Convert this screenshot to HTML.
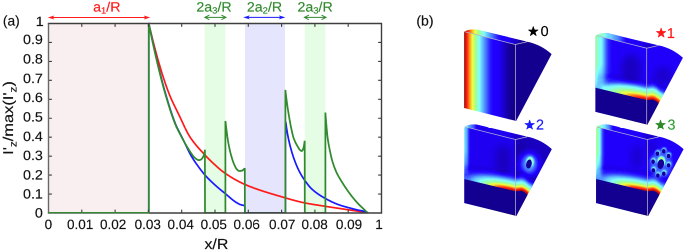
<!DOCTYPE html>
<html><head><meta charset="utf-8"><title>figure</title>
<style>html,body{margin:0;padding:0;background:#fff;overflow:hidden}body{width:685px;height:250px;position:relative}#w{position:absolute;left:0;top:0;width:1370px;height:500px;transform:scale(0.5);transform-origin:0 0;will-change:transform}</style>
</head><body>
<div id="w">
<svg width="1370" height="500" viewBox="0 0 685 250" style="display:block;font-family:'Liberation Sans',Arial,sans-serif;text-rendering:geometricPrecision">
<defs>
<filter id="jet" x="-5%" y="-5%" width="110%" height="110%" color-interpolation-filters="sRGB">
<feComponentTransfer>
<feFuncR type="table" tableValues="0.08 0.13 0.30 0.50 0.65 0.94 1 1 0.56"/>
<feFuncG type="table" tableValues="0 0 0.55 1 1 1 0.55 0.12 0.06"/>
<feFuncB type="table" tableValues="0.56 1 1 1 0.55 0.25 0.12 0.06 0.06"/>
</feComponentTransfer>
</filter>
<filter id="b1" x="-80%" y="-80%" width="260%" height="260%"><feGaussianBlur stdDeviation="1"/></filter>
<filter id="b07" x="-10%" y="-10%" width="120%" height="120%"><feGaussianBlur stdDeviation="0.7"/></filter>
<filter id="b2" x="-80%" y="-80%" width="260%" height="260%"><feGaussianBlur stdDeviation="2"/></filter>
<filter id="b3" x="-120%" y="-120%" width="340%" height="340%"><feGaussianBlur stdDeviation="3.5"/></filter>
<linearGradient id="g0" gradientUnits="userSpaceOnUse" x1="464.0" y1="0" x2="517.6" y2="0">
<stop offset="0.000" stop-color="#ffffff"/>
<stop offset="0.020" stop-color="#f2f2f2"/>
<stop offset="0.055" stop-color="#dfdfdf"/>
<stop offset="0.102" stop-color="#bfbfbf"/>
<stop offset="0.157" stop-color="#9f9f9f"/>
<stop offset="0.215" stop-color="#808080"/>
<stop offset="0.286" stop-color="#606060"/>
<stop offset="0.391" stop-color="#404040"/>
<stop offset="0.489" stop-color="#262626"/>
<stop offset="0.548" stop-color="#202020"/>
<stop offset="0.646" stop-color="#1f1f1f"/>
<stop offset="0.724" stop-color="#141414"/>
<stop offset="0.802" stop-color="#090909"/>
<stop offset="0.881" stop-color="#000000"/>
<stop offset="0.998" stop-color="#000000"/>
</linearGradient>
<linearGradient id="g0t" gradientUnits="userSpaceOnUse" x1="464.0" y1="0" x2="533" y2="0">
<stop offset="0.000" stop-color="#ffffff"/>
<stop offset="0.020" stop-color="#f2f2f2"/>
<stop offset="0.055" stop-color="#dfdfdf"/>
<stop offset="0.102" stop-color="#bfbfbf"/>
<stop offset="0.157" stop-color="#9f9f9f"/>
<stop offset="0.215" stop-color="#808080"/>
<stop offset="0.286" stop-color="#606060"/>
<stop offset="0.391" stop-color="#404040"/>
<stop offset="0.489" stop-color="#262626"/>
<stop offset="0.548" stop-color="#202020"/>
<stop offset="0.646" stop-color="#1f1f1f"/>
<stop offset="0.724" stop-color="#141414"/>
<stop offset="0.802" stop-color="#090909"/>
<stop offset="0.881" stop-color="#000000"/>
<stop offset="0.998" stop-color="#000000"/>
</linearGradient>
<linearGradient id="gleft1" gradientUnits="userSpaceOnUse" x1="464.00" y1="0.00" x2="482.00" y2="0.00">
<stop offset="0.000" stop-color="#fff" stop-opacity="0.45"/>
<stop offset="0.170" stop-color="#fff" stop-opacity="0.324"/>
<stop offset="0.350" stop-color="#fff" stop-opacity="0.28350000000000003"/>
<stop offset="0.470" stop-color="#fff" stop-opacity="0.20700000000000002"/>
<stop offset="0.590" stop-color="#fff" stop-opacity="0.1125"/>
<stop offset="0.760" stop-color="#fff" stop-opacity="0.03150000000000001"/>
<stop offset="1.000" stop-color="#fff" stop-opacity="0"/>
</linearGradient>
<linearGradient id="gleftt1" gradientUnits="userSpaceOnUse" x1="464.00" y1="0.00" x2="494.60" y2="0.00">
<stop offset="0.000" stop-color="#fff" stop-opacity="0.0"/>
<stop offset="0.250" stop-color="#fff" stop-opacity="0.1575"/>
<stop offset="0.500" stop-color="#fff" stop-opacity="0.225"/>
<stop offset="0.750" stop-color="#fff" stop-opacity="0.135"/>
<stop offset="1.000" stop-color="#fff" stop-opacity="0"/>
</linearGradient>
<linearGradient id="gleftv1" gradientUnits="userSpaceOnUse" x1="0.00" y1="30.00" x2="0.00" y2="90.00">
<stop offset="0.000" stop-color="#fff" stop-opacity="1"/>
<stop offset="0.500" stop-color="#fff" stop-opacity="1"/>
<stop offset="0.750" stop-color="#fff" stop-opacity="0.75"/>
<stop offset="0.900" stop-color="#fff" stop-opacity="0.45"/>
<stop offset="1.000" stop-color="#fff" stop-opacity="0.15"/>
</linearGradient>
<mask id="mleft1" maskUnits="userSpaceOnUse" x="455" y="20" width="60" height="90"><rect x="455" y="20" width="60" height="90" fill="url(#gleftv1)"/></mask>
<linearGradient id="gleft2" gradientUnits="userSpaceOnUse" x1="464.00" y1="0.00" x2="471.50" y2="0.00">
<stop offset="0.000" stop-color="#fff" stop-opacity="0.33"/>
<stop offset="0.170" stop-color="#fff" stop-opacity="0.2376"/>
<stop offset="0.350" stop-color="#fff" stop-opacity="0.2079"/>
<stop offset="0.470" stop-color="#fff" stop-opacity="0.15180000000000002"/>
<stop offset="0.590" stop-color="#fff" stop-opacity="0.0825"/>
<stop offset="0.760" stop-color="#fff" stop-opacity="0.023100000000000002"/>
<stop offset="1.000" stop-color="#fff" stop-opacity="0"/>
</linearGradient>
<linearGradient id="gleftt2" gradientUnits="userSpaceOnUse" x1="464.00" y1="0.00" x2="476.75" y2="0.00">
<stop offset="0.000" stop-color="#fff" stop-opacity="0.0"/>
<stop offset="0.250" stop-color="#fff" stop-opacity="0.11549999999999999"/>
<stop offset="0.500" stop-color="#fff" stop-opacity="0.165"/>
<stop offset="0.750" stop-color="#fff" stop-opacity="0.099"/>
<stop offset="1.000" stop-color="#fff" stop-opacity="0"/>
</linearGradient>
<linearGradient id="gleftv2" gradientUnits="userSpaceOnUse" x1="0.00" y1="30.00" x2="0.00" y2="80.00">
<stop offset="0.000" stop-color="#fff" stop-opacity="1"/>
<stop offset="0.500" stop-color="#fff" stop-opacity="1"/>
<stop offset="0.750" stop-color="#fff" stop-opacity="0.75"/>
<stop offset="0.900" stop-color="#fff" stop-opacity="0.45"/>
<stop offset="1.000" stop-color="#fff" stop-opacity="0.15"/>
</linearGradient>
<mask id="mleft2" maskUnits="userSpaceOnUse" x="455" y="20" width="60" height="90"><rect x="455" y="20" width="60" height="90" fill="url(#gleftv2)"/></mask>
<linearGradient id="gleft3" gradientUnits="userSpaceOnUse" x1="464.00" y1="0.00" x2="474.00" y2="0.00">
<stop offset="0.000" stop-color="#fff" stop-opacity="0.5"/>
<stop offset="0.170" stop-color="#fff" stop-opacity="0.36"/>
<stop offset="0.350" stop-color="#fff" stop-opacity="0.315"/>
<stop offset="0.470" stop-color="#fff" stop-opacity="0.23"/>
<stop offset="0.590" stop-color="#fff" stop-opacity="0.125"/>
<stop offset="0.760" stop-color="#fff" stop-opacity="0.035"/>
<stop offset="1.000" stop-color="#fff" stop-opacity="0"/>
</linearGradient>
<linearGradient id="gleftt3" gradientUnits="userSpaceOnUse" x1="464.00" y1="0.00" x2="481.00" y2="0.00">
<stop offset="0.000" stop-color="#fff" stop-opacity="0.0"/>
<stop offset="0.250" stop-color="#fff" stop-opacity="0.175"/>
<stop offset="0.500" stop-color="#fff" stop-opacity="0.25"/>
<stop offset="0.750" stop-color="#fff" stop-opacity="0.15"/>
<stop offset="1.000" stop-color="#fff" stop-opacity="0"/>
</linearGradient>
<linearGradient id="gleftv3" gradientUnits="userSpaceOnUse" x1="0.00" y1="30.00" x2="0.00" y2="85.00">
<stop offset="0.000" stop-color="#fff" stop-opacity="1"/>
<stop offset="0.500" stop-color="#fff" stop-opacity="1"/>
<stop offset="0.750" stop-color="#fff" stop-opacity="0.75"/>
<stop offset="0.900" stop-color="#fff" stop-opacity="0.45"/>
<stop offset="1.000" stop-color="#fff" stop-opacity="0.15"/>
</linearGradient>
<mask id="mleft3" maskUnits="userSpaceOnUse" x="455" y="20" width="60" height="90"><rect x="455" y="20" width="60" height="90" fill="url(#gleftv3)"/></mask>
<clipPath id="cshape"><path d="M464.1,32.4 Q464.9,30.8 470,29.8 Q474,29.1 477.5,29.7 L527.2,41.7 Q541,44.5 551.6,54.1 L516.0,121.2 L515.4,120.8 L464.1,108.0 Z"/></clipPath>
<clipPath id="ctop"><path d="M464.1,32.4 Q464.9,30.8 470,29.8 Q474,29.1 477.5,29.7 L527.2,41.7 L515.4,44.5 L464.1,31.6 Z"/></clipPath>
<clipPath id="cfront"><path d="M460,30.6 L515.4,44.5 L515.4,122 L460,108.0 Z"/></clipPath>
<clipPath id="cright"><path d="M515.4,44.5 L527.2,41.7 L560,41 L560,125 L515.4,125 Z"/></clipPath>
<clipPath id="cplot"><rect x="40" y="20" width="345" height="193.3"/></clipPath>
</defs>
<rect x="0" y="0" width="685" height="250" fill="#fff"/>
<rect x="48.5" y="23.5" width="100.3" height="189.5" fill="#f9eef0"/>
<rect x="204.6" y="23.5" width="20.7" height="189.5" fill="#e5fde5"/>
<rect x="245.0" y="23.5" width="40.0" height="189.5" fill="#e5e6fd"/>
<rect x="304.8" y="23.5" width="20.6" height="189.5" fill="#e5fde5"/>
<g clip-path="url(#cplot)">
<polyline points="148.8,23.5 149.3,25.7 149.8,27.8 150.3,29.9 150.8,32.0 151.3,34.1 151.8,36.1 152.3,38.2 152.8,40.2 153.3,42.2 153.8,44.1 154.3,46.1 154.8,48.0 155.3,49.9 155.8,51.8 156.3,53.6 156.8,55.5 157.3,57.3 157.8,59.1 158.3,60.8 158.8,62.6 159.3,64.3 159.8,66.0 160.3,67.7 160.8,69.3 161.3,71.0 161.8,72.6 162.3,74.2 162.8,75.8 163.3,77.3 163.8,78.9 164.3,80.4 164.8,81.9 165.3,83.4 165.8,84.8 166.3,86.2 166.8,87.7 167.3,89.0 167.8,90.4 168.3,91.7 168.8,93.0 169.3,94.3 169.8,95.5 170.3,96.7 170.8,97.9 171.3,99.0 171.8,100.1 172.3,101.2 172.8,102.3 173.3,103.4 173.8,104.4 174.3,105.5 174.8,106.5 175.3,107.5 175.8,108.5 176.3,109.5 176.8,110.5 177.3,111.5 177.8,112.6 178.3,113.6 178.8,114.6 179.3,115.6 179.8,116.7 180.3,117.7 180.8,118.8 181.3,119.9 181.8,121.0 182.3,122.0 182.8,123.1 183.3,124.2 183.8,125.3 184.3,126.3 184.8,127.4 185.3,128.4 185.8,129.4 186.3,130.4 186.8,131.4 187.3,132.4 187.8,133.3 188.3,134.2 188.8,135.1 189.3,135.9 189.8,136.7 190.3,137.5 190.8,138.2 191.3,138.9 191.8,139.6 192.3,140.3 192.8,141.0 193.3,141.7 193.8,142.3 194.3,143.0 194.8,143.6 195.3,144.2 195.8,144.8 196.3,145.4 196.8,146.0 197.3,146.6 197.8,147.2 198.3,147.8 198.8,148.3 199.3,148.9 199.8,149.4 200.3,150.0 200.8,150.5 201.3,151.1 201.8,151.6 202.3,152.2 202.8,152.7 203.3,153.2 203.8,153.8 204.3,154.3 204.8,154.9 205.3,155.4 205.8,155.9 206.3,156.5 206.8,157.0 207.3,157.5 207.8,158.0 208.3,158.5 208.8,159.0 209.3,159.5 209.8,160.0 210.3,160.5 210.8,161.0 211.3,161.5 211.8,162.0 212.3,162.4 212.8,162.9 213.3,163.4 213.8,163.8 214.3,164.3 214.8,164.7 215.3,165.2 215.8,165.6 216.3,166.1 216.8,166.5 217.3,167.0 217.8,167.4 218.3,167.9 218.8,168.3 219.3,168.7 219.8,169.2 220.3,169.6 220.8,170.0 221.3,170.4 221.8,170.8 222.3,171.2 222.8,171.6 223.3,172.0 223.8,172.3 224.3,172.7 224.8,173.1 225.3,173.4 225.8,173.7 226.3,174.1 226.8,174.4 227.3,174.7 227.8,175.1 228.3,175.4 228.8,175.7 229.3,176.0 229.8,176.4 230.3,176.7 230.8,177.0 231.3,177.3 231.8,177.6 232.3,177.9 232.8,178.2 233.3,178.5 233.8,178.8 234.3,179.1 234.8,179.3 235.3,179.6 235.8,179.9 236.3,180.2 236.8,180.5 237.3,180.7 237.8,181.0 238.3,181.3 238.8,181.5 239.3,181.8 239.8,182.0 240.3,182.3 240.8,182.5 241.3,182.8 241.8,183.0 242.3,183.2 242.8,183.5 243.3,183.7 243.8,183.9 244.3,184.2 244.8,184.4 245.3,184.6 245.8,184.8 246.3,185.0 246.8,185.2 247.3,185.4 247.8,185.7 248.3,185.9 248.8,186.1 249.3,186.3 249.8,186.5 250.3,186.7 250.8,186.8 251.3,187.0 251.8,187.2 252.3,187.4 252.8,187.6 253.3,187.8 253.8,188.0 254.3,188.2 254.8,188.3 255.3,188.5 255.8,188.7 256.3,188.9 256.8,189.1 257.3,189.2 257.8,189.4 258.3,189.6 258.8,189.8 259.3,189.9 259.8,190.1 260.3,190.3 260.8,190.4 261.3,190.6 261.8,190.8 262.3,190.9 262.8,191.1 263.3,191.2 263.8,191.4 264.3,191.6 264.8,191.7 265.3,191.9 265.8,192.0 266.3,192.2 266.8,192.3 267.3,192.5 267.8,192.7 268.3,192.8 268.8,193.0 269.3,193.1 269.8,193.3 270.3,193.4 270.8,193.6 271.3,193.7 271.8,193.9 272.3,194.0 272.8,194.2 273.3,194.3 273.8,194.5 274.3,194.6 274.8,194.8 275.3,194.9 275.8,195.1 276.3,195.2 276.8,195.4 277.3,195.5 277.8,195.6 278.3,195.8 278.8,195.9 279.3,196.1 279.8,196.2 280.3,196.4 280.8,196.5 281.3,196.7 281.8,196.8 282.3,197.0 282.8,197.1 283.3,197.3 283.8,197.4 284.3,197.6 284.8,197.7 285.3,197.9 285.8,198.0 286.3,198.2 286.8,198.3 287.3,198.5 287.8,198.6 288.3,198.7 288.8,198.9 289.3,199.0 289.8,199.2 290.3,199.3 290.8,199.5 291.3,199.6 291.8,199.7 292.3,199.9 292.8,200.0 293.3,200.1 293.8,200.3 294.3,200.4 294.8,200.5 295.3,200.7 295.8,200.8 296.3,200.9 296.8,201.1 297.3,201.2 297.8,201.3 298.3,201.4 298.8,201.6 299.3,201.7 299.8,201.8 300.3,201.9 300.8,202.0 301.3,202.2 301.8,202.3 302.3,202.4 302.8,202.5 303.3,202.6 303.8,202.7 304.3,202.8 304.8,202.9 305.3,203.0 305.8,203.1 306.3,203.2 306.8,203.3 307.3,203.4 307.8,203.5 308.3,203.6 308.8,203.7 309.3,203.8 309.8,203.8 310.3,203.9 310.8,204.0 311.3,204.1 311.8,204.2 312.3,204.3 312.8,204.4 313.3,204.4 313.8,204.5 314.3,204.6 314.8,204.7 315.3,204.8 315.8,204.8 316.3,204.9 316.8,205.0 317.3,205.1 317.8,205.1 318.3,205.2 318.8,205.3 319.3,205.4 319.8,205.5 320.3,205.5 320.8,205.6 321.3,205.7 321.8,205.8 322.3,205.8 322.8,205.9 323.3,206.0 323.8,206.1 324.3,206.2 324.8,206.2 325.3,206.3 325.8,206.4 326.3,206.5 326.8,206.6 327.3,206.6 327.8,206.7 328.3,206.8 328.8,206.9 329.3,206.9 329.8,207.0 330.3,207.1 330.8,207.2 331.3,207.2 331.8,207.3 332.3,207.4 332.8,207.5 333.3,207.5 333.8,207.6 334.3,207.7 334.8,207.8 335.3,207.8 335.8,207.9 336.3,208.0 336.8,208.1 337.3,208.1 337.8,208.2 338.3,208.3 338.8,208.4 339.3,208.4 339.8,208.5 340.3,208.6 340.8,208.7 341.3,208.7 341.8,208.8 342.3,208.9 342.8,209.0 343.3,209.0 343.8,209.1 344.3,209.2 344.8,209.3 345.3,209.3 345.8,209.4 346.3,209.5 346.8,209.6 347.3,209.6 347.8,209.7 348.3,209.8 348.8,209.9 349.3,209.9 349.8,210.0 350.3,210.1 350.8,210.2 351.3,210.2 351.8,210.3 352.3,210.4 352.8,210.4 353.3,210.5 353.8,210.6 354.3,210.7 354.8,210.7 355.3,210.8 355.8,210.9 356.3,210.9 356.8,211.0 357.3,211.1 357.8,211.2 358.3,211.2 358.8,211.3 359.3,211.4 359.8,211.5 360.3,211.5 360.8,211.6 361.3,211.7 361.8,211.8 362.3,211.9 362.8,212.0 363.3,212.0 363.8,212.1 364.3,212.2 364.8,212.3 365.3,212.4 365.8,212.5 366.3,212.6 366.8,212.7 367.3,212.8 367.8,213.0 368.0,213.0" fill="none" stroke="#ff1a1a" stroke-width="1.7" stroke-linejoin="round"/>
<polyline points="48.5,213.0 148.8,213.0 148.8,23.5 149.1,24.7 149.3,25.9 149.6,27.2 149.8,28.4 150.1,29.6 150.3,30.8 150.6,32.0 150.8,33.2 151.1,34.3 151.3,35.5 151.6,36.7 151.8,37.9 152.1,39.0 152.3,40.2 152.6,41.3 152.8,42.5 153.1,43.6 153.3,44.7 153.6,45.9 153.8,47.0 154.1,48.1 154.3,49.2 154.6,50.3 154.8,51.4 155.1,52.5 155.3,53.6 155.6,54.7 155.8,55.8 156.1,56.9 156.3,57.9 156.6,59.0 156.8,60.1 157.1,61.1 157.3,62.2 157.6,63.2 157.8,64.3 158.1,65.3 158.3,66.3 158.6,67.4 158.8,68.4 159.1,69.4 159.3,70.4 159.6,71.4 159.8,72.4 160.1,73.4 160.3,74.4 160.6,75.4 160.8,76.3 161.1,77.3 161.3,78.3 161.6,79.2 161.8,80.2 162.1,81.1 162.3,82.1 162.6,83.0 162.8,84.0 163.1,84.9 163.3,85.8 163.6,86.7 163.8,87.6 164.1,88.5 164.3,89.4 164.6,90.3 164.8,91.2 165.1,92.1 165.3,92.9 165.6,93.8 165.8,94.7 166.1,95.5 166.3,96.4 166.6,97.2 166.8,98.1 167.1,98.9 167.3,99.7 167.6,100.6 167.8,101.4 168.1,102.2 168.3,103.0 168.6,103.9 168.8,104.7 169.1,105.5 169.3,106.3 169.6,107.1 169.8,107.9 170.1,108.6 170.3,109.4 170.6,110.2 170.8,111.0 171.1,111.7 171.3,112.5 171.6,113.2 171.8,114.0 172.1,114.7 172.3,115.4 172.6,116.2 172.8,116.9 173.1,117.6 173.3,118.3 173.6,119.0 173.8,119.7 174.1,120.3 174.3,121.0 174.6,121.7 174.8,122.3 175.1,122.9 175.3,123.6 175.6,124.2 175.8,124.8 176.1,125.3 176.3,125.9 176.6,126.5 176.8,127.0 177.1,127.6 177.3,128.1 177.6,128.6 177.8,129.1 178.1,129.6 178.3,130.1 178.6,130.6 178.8,131.1 179.1,131.6 179.3,132.1 179.6,132.6 179.8,133.1 180.1,133.6 180.3,134.0 180.6,134.5 180.8,135.0 181.1,135.5 181.3,136.0 181.6,136.5 181.8,137.0 182.1,137.5 182.3,138.0 182.6,138.5 182.8,139.0 183.1,139.5 183.3,140.1 183.6,140.6 183.8,141.1 184.1,141.6 184.3,142.1 184.6,142.6 184.8,143.1 185.1,143.7 185.3,144.2 185.6,144.7 185.8,145.2 186.1,145.7 186.3,146.2 186.6,146.7 186.8,147.2 187.1,147.8 187.3,148.3 187.6,148.8 187.8,149.3 188.1,149.8 188.3,150.4 188.6,150.9 188.8,151.4 189.1,151.9 189.3,152.4 189.6,152.9 189.8,153.4 190.1,153.8 190.3,154.3 190.6,154.8 190.8,155.2 191.1,155.6 191.3,156.1 191.6,156.5 191.8,156.9 192.1,157.3 192.3,157.7 192.6,158.1 192.8,158.5 193.1,158.9 193.3,159.3 193.6,159.7 193.8,160.1 194.1,160.5 194.3,160.8 194.6,161.2 194.8,161.6 195.1,161.9 195.3,162.3 195.6,162.7 195.8,163.0 196.1,163.4 196.3,163.7 196.6,164.1 196.8,164.4 197.1,164.8 197.3,165.1 197.6,165.5 197.8,165.8 198.1,166.2 198.3,166.5 198.6,166.9 198.8,167.2 199.1,167.6 199.3,167.9 199.6,168.2 199.8,168.6 200.1,168.9 200.3,169.2 200.6,169.6 200.8,169.9 201.1,170.2 201.3,170.5 201.6,170.9 201.8,171.2 202.1,171.5 202.3,171.8 202.6,172.1 202.8,172.4 203.1,172.8 203.3,173.1 203.6,173.4 203.8,173.7 204.1,174.0 204.3,174.3 204.6,174.5 204.8,174.8 205.1,175.1 205.3,175.4 205.6,175.7 205.8,176.0 206.1,176.2 206.3,176.5 206.6,176.8 206.8,177.0 207.1,177.3 207.3,177.6 207.6,177.8 207.8,178.1 208.1,178.4 208.3,178.6 208.6,178.9 208.8,179.1 209.1,179.4 209.3,179.6 209.6,179.9 209.8,180.1 210.1,180.4 210.3,180.6 210.6,180.8 210.8,181.1 211.1,181.3 211.3,181.6 211.6,181.8 211.8,182.0 212.1,182.3 212.3,182.5 212.6,182.7 212.8,183.0 213.1,183.2 213.3,183.4 213.6,183.7 213.8,183.9 214.1,184.1 214.3,184.4 214.6,184.6 214.8,184.8 215.1,185.0 215.3,185.3 215.6,185.5 215.8,185.7 216.1,185.9 216.3,186.2 216.6,186.4 216.8,186.6 217.1,186.8 217.3,187.0 217.6,187.3 217.8,187.5 218.1,187.7 218.3,187.9 218.6,188.1 218.8,188.3 219.1,188.5 219.3,188.7 219.6,188.9 219.8,189.2 220.1,189.4 220.3,189.6 220.6,189.8 220.8,190.0 221.1,190.2 221.3,190.4 221.6,190.6 221.8,190.8 222.1,191.0 222.3,191.2 222.6,191.4 222.8,191.6 223.1,191.8 223.3,192.0 223.6,192.2 223.8,192.4 224.1,192.6 224.3,192.8 224.6,193.0 224.8,193.2 225.1,193.4 225.3,193.6 225.6,193.9 225.8,194.1 226.1,194.3 226.3,194.5 226.6,194.7 226.8,194.9 227.1,195.1 227.3,195.3 227.6,195.6 227.8,195.8 228.1,196.0 228.3,196.2 228.6,196.4 228.8,196.6 229.1,196.8 229.3,197.1 229.6,197.3 229.8,197.5 230.1,197.7 230.3,197.9 230.6,198.1 230.8,198.4 231.1,198.6 231.3,198.8 231.6,199.0 231.8,199.2 232.1,199.4 232.3,199.6 232.6,199.8 232.8,200.0 233.1,200.2 233.3,200.4 233.6,200.6 233.8,200.8 234.1,200.9 234.3,201.1 234.6,201.3 234.8,201.5 235.1,201.7 235.3,201.8 235.6,202.0 235.8,202.2 236.1,202.3 236.3,202.5 236.6,202.6 236.8,202.8 237.1,202.9 237.3,203.1 237.6,203.2 237.8,203.4 238.1,203.5 238.3,203.6 238.6,203.8 238.8,203.9 239.1,204.0 239.3,204.2 239.6,204.3 239.8,204.4 240.1,204.5 240.3,204.6 240.6,204.7 240.8,204.7 241.1,204.8 241.3,204.9 241.6,204.9 241.8,205.0 242.1,205.1 242.3,205.1 242.6,205.2 242.8,205.2 243.1,205.3 243.3,205.3 243.6,205.4 243.8,205.4 244.1,205.4 244.3,205.5 244.6,205.5 244.8,205.5 244.9,213.0 285.4,213.0 285.4,124.0 285.8,122.2 286.1,124.2 286.3,126.2 286.6,128.0 286.8,129.7 287.1,131.3 287.3,132.8 287.6,134.2 287.8,135.5 288.1,136.8 288.3,138.1 288.6,139.3 288.8,140.4 289.1,141.5 289.3,142.6 289.6,143.6 289.8,144.7 290.1,145.7 290.3,146.6 290.6,147.6 290.8,148.5 291.1,149.4 291.3,150.3 291.6,151.2 291.8,152.1 292.1,152.9 292.3,153.7 292.6,154.5 292.8,155.3 293.1,156.1 293.3,156.8 293.6,157.6 293.8,158.3 294.1,159.0 294.3,159.7 294.6,160.4 294.8,161.0 295.1,161.7 295.3,162.4 295.6,163.0 295.8,163.6 296.1,164.3 296.3,164.9 296.6,165.5 296.8,166.1 297.1,166.6 297.3,167.2 297.6,167.8 297.8,168.3 298.1,168.8 298.3,169.4 298.6,169.9 298.8,170.4 299.1,170.9 299.3,171.4 299.6,171.9 299.8,172.4 300.1,172.8 300.3,173.3 300.6,173.7 300.8,174.2 301.1,174.6 301.3,175.0 301.6,175.5 301.8,175.9 302.1,176.3 302.3,176.7 302.6,177.1 302.8,177.5 303.1,177.9 303.3,178.2 303.6,178.6 303.8,179.0 304.1,179.4 304.3,179.7 304.6,180.1 304.8,180.4 305.1,180.8 305.3,181.1 305.6,181.5 305.8,181.8 306.1,182.2 306.3,182.5 306.6,182.9 306.8,183.2 307.1,183.5 307.3,183.9 307.6,184.2 307.8,184.5 308.1,184.8 308.3,185.1 308.6,185.5 308.8,185.8 309.1,186.1 309.3,186.4 309.6,186.7 309.8,186.9 310.1,187.2 310.3,187.5 310.6,187.8 310.8,188.0 311.1,188.3 311.3,188.5 311.6,188.8 311.8,189.0 312.1,189.2 312.3,189.5 312.6,189.7 312.8,189.9 313.1,190.1 313.3,190.3 313.6,190.6 313.8,190.8 314.1,191.0 314.3,191.2 314.6,191.4 314.8,191.6 315.1,191.8 315.3,192.0 315.6,192.2 315.8,192.4 316.1,192.6 316.3,192.7 316.6,192.9 316.8,193.1 317.1,193.3 317.3,193.5 317.6,193.7 317.8,193.8 318.1,194.0 318.3,194.2 318.6,194.3 318.8,194.5 319.1,194.7 319.3,194.8 319.6,195.0 319.8,195.2 320.1,195.3 320.3,195.5 320.6,195.7 320.8,195.8 321.1,196.0 321.3,196.1 321.6,196.3 321.8,196.4 322.1,196.6 322.3,196.7 322.6,196.9 322.8,197.0 323.1,197.2 323.3,197.3 323.6,197.5 323.8,197.6 324.1,197.7 324.3,197.9 324.6,198.0 324.8,198.2 325.1,198.3 325.3,198.5 325.6,198.6 325.8,198.7 326.1,198.9 326.3,199.0 326.6,199.1 326.8,199.3 327.1,199.4 327.3,199.6 327.6,199.7 327.8,199.8 328.1,200.0 328.3,200.1 328.6,200.2 328.8,200.3 329.1,200.5 329.3,200.6 329.6,200.7 329.8,200.9 330.1,201.0 330.3,201.1 330.6,201.2 330.8,201.4 331.1,201.5 331.3,201.6 331.6,201.7 331.8,201.8 332.1,202.0 332.3,202.1 332.6,202.2 332.8,202.3 333.1,202.4 333.3,202.5 333.6,202.6 333.8,202.8 334.1,202.9 334.3,203.0 334.6,203.1 334.8,203.2 335.1,203.3 335.3,203.4 335.6,203.5 335.8,203.6 336.1,203.7 336.3,203.8 336.6,203.9 336.8,204.0 337.1,204.1 337.3,204.2 337.6,204.3 337.8,204.4 338.1,204.5 338.3,204.6 338.6,204.7 338.8,204.7 339.1,204.8 339.3,204.9 339.6,205.0 339.8,205.1 340.1,205.2 340.3,205.3 340.6,205.3 340.8,205.4 341.1,205.5 341.3,205.6 341.6,205.7 341.8,205.7 342.1,205.8 342.3,205.9 342.6,206.0 342.8,206.1 343.1,206.1 343.3,206.2 343.6,206.3 343.8,206.4 344.1,206.4 344.3,206.5 344.6,206.6 344.8,206.6 345.1,206.7 345.3,206.8 345.6,206.9 345.8,206.9 346.1,207.0 346.3,207.1 346.6,207.1 346.8,207.2 347.1,207.3 347.3,207.3 347.6,207.4 347.8,207.5 348.1,207.5 348.3,207.6 348.6,207.7 348.8,207.7 349.1,207.8 349.3,207.9 349.6,207.9 349.8,208.0 350.1,208.1 350.3,208.1 350.6,208.2 350.8,208.3 351.1,208.3 351.3,208.4 351.6,208.5 351.8,208.5 352.1,208.6 352.3,208.6 352.6,208.7 352.8,208.8 353.1,208.8 353.3,208.9 353.6,209.0 353.8,209.0 354.1,209.1 354.3,209.2 354.6,209.2 354.8,209.3 355.1,209.4 355.3,209.4 355.6,209.5 355.8,209.5 356.1,209.6 356.3,209.7 356.6,209.7 356.8,209.8 357.1,209.9 357.3,209.9 357.6,210.0 357.8,210.0 358.1,210.1 358.3,210.1 358.6,210.2 358.8,210.2 359.1,210.3 359.3,210.3 359.6,210.4 359.8,210.4 360.1,210.5 360.3,210.5 360.6,210.6 360.8,210.6 361.1,210.6 361.3,210.7 361.6,210.7 361.8,210.8 362.1,210.8 362.3,210.9 362.6,211.0 362.8,211.0 363.1,211.1 363.3,211.1 363.6,211.2 363.8,211.2 364.1,211.3 364.3,211.4 364.6,211.4 364.8,211.5 365.1,211.6 365.3,211.7 365.6,211.8 365.8,211.8 366.1,211.9 366.3,212.0 366.6,212.1 366.8,212.2 367.1,212.3 367.3,212.5 367.6,212.6 367.8,212.8 368.0,213.0" fill="none" stroke="#1a1aff" stroke-width="1.7" stroke-linejoin="round"/>
<polyline points="48.5,213.0 148.8,213.0 148.8,23.5 149.1,24.8 149.3,26.0 149.6,27.2 149.8,28.5 150.1,29.7 150.3,30.9 150.6,32.2 150.8,33.4 151.1,34.6 151.3,35.8 151.6,37.0 151.8,38.2 152.1,39.3 152.3,40.5 152.6,41.7 152.8,42.9 153.1,44.0 153.3,45.2 153.6,46.3 153.8,47.5 154.1,48.6 154.3,49.7 154.6,50.9 154.8,52.0 155.1,53.1 155.3,54.2 155.6,55.3 155.8,56.4 156.1,57.5 156.3,58.6 156.6,59.7 156.8,60.8 157.1,61.8 157.3,62.9 157.6,64.0 157.8,65.0 158.1,66.1 158.3,67.1 158.6,68.1 158.8,69.2 159.1,70.2 159.3,71.2 159.6,72.2 159.8,73.3 160.1,74.3 160.3,75.3 160.6,76.3 160.8,77.2 161.1,78.2 161.3,79.2 161.6,80.2 161.8,81.1 162.1,82.1 162.3,83.0 162.6,84.0 162.8,84.9 163.1,85.9 163.3,86.8 163.6,87.7 163.8,88.6 164.1,89.5 164.3,90.4 164.6,91.3 164.8,92.2 165.1,93.1 165.3,94.0 165.6,94.8 165.8,95.7 166.1,96.5 166.3,97.4 166.6,98.2 166.8,99.1 167.1,99.9 167.3,100.8 167.6,101.6 167.8,102.4 168.1,103.2 168.3,104.0 168.6,104.9 168.8,105.7 169.1,106.5 169.3,107.2 169.6,108.0 169.8,108.8 170.1,109.6 170.3,110.4 170.6,111.1 170.8,111.9 171.1,112.6 171.3,113.4 171.6,114.1 171.8,114.9 172.1,115.6 172.3,116.3 172.6,117.0 172.8,117.7 173.1,118.4 173.3,119.1 173.6,119.8 173.8,120.5 174.1,121.1 174.3,121.8 174.6,122.4 174.8,123.1 175.1,123.7 175.3,124.3 175.6,124.9 175.8,125.5 176.1,126.0 176.3,126.6 176.6,127.1 176.8,127.7 177.1,128.2 177.3,128.7 177.6,129.2 177.8,129.7 178.1,130.3 178.3,130.8 178.6,131.3 178.8,131.7 179.1,132.2 179.3,132.7 179.6,133.2 179.8,133.7 180.1,134.1 180.3,134.6 180.6,135.1 180.8,135.6 181.1,136.0 181.3,136.5 181.6,137.0 181.8,137.4 182.1,137.9 182.3,138.4 182.6,138.8 182.8,139.3 183.1,139.7 183.3,140.2 183.6,140.7 183.8,141.1 184.1,141.6 184.3,142.0 184.6,142.5 184.8,142.9 185.1,143.4 185.3,143.8 185.6,144.3 185.8,144.7 186.1,145.1 186.3,145.6 186.6,146.0 186.8,146.4 187.1,146.8 187.3,147.2 187.6,147.6 187.8,148.0 188.1,148.4 188.3,148.8 188.6,149.2 188.8,149.6 189.1,150.0 189.3,150.4 189.6,150.8 189.8,151.2 190.1,151.6 190.3,152.0 190.6,152.4 190.8,152.8 191.1,153.1 191.3,153.5 191.6,153.9 191.8,154.2 192.1,154.6 192.3,154.9 192.6,155.3 192.8,155.6 193.1,155.9 193.3,156.2 193.6,156.5 193.8,156.8 194.1,157.1 194.3,157.3 194.6,157.6 194.8,157.8 195.1,158.1 195.3,158.3 195.6,158.5 195.8,158.7 196.1,158.9 196.3,159.1 196.6,159.2 196.8,159.4 197.1,159.5 197.3,159.6 197.6,159.8 197.8,159.9 198.1,160.0 198.3,160.0 198.6,160.1 198.8,160.1 199.1,160.1 199.3,160.1 199.6,160.0 199.8,160.0 200.1,159.9 200.3,159.8 200.6,159.7 200.8,159.6 201.1,159.5 201.3,159.3 201.6,159.1 201.8,158.8 202.1,158.5 202.3,158.1 202.6,157.8 202.8,157.3 203.1,156.9 203.3,156.4 203.6,155.9 203.8,155.3 204.1,154.5 204.3,153.6 204.6,152.2 204.8,150.5 204.9,149.8 205.0,213.0 225.4,213.0 225.4,121.0 225.7,123.1 225.9,125.2 226.2,127.2 226.4,129.2 226.7,131.2 226.9,133.1 227.2,135.1 227.4,137.0 227.7,138.8 227.9,140.4 228.2,141.9 228.4,143.3 228.7,144.6 228.9,145.9 229.2,147.2 229.4,148.4 229.7,149.5 229.9,150.6 230.2,151.7 230.4,152.7 230.7,153.7 230.9,154.6 231.2,155.5 231.4,156.4 231.7,157.3 231.9,158.1 232.2,158.9 232.4,159.7 232.7,160.5 232.9,161.2 233.2,161.9 233.4,162.6 233.7,163.2 233.9,163.9 234.2,164.4 234.4,165.0 234.7,165.5 234.9,166.1 235.2,166.6 235.4,167.1 235.7,167.6 235.9,168.0 236.2,168.4 236.4,168.8 236.7,169.1 236.9,169.4 237.2,169.6 237.4,169.9 237.7,170.1 237.9,170.3 238.2,170.5 238.4,170.7 238.7,170.8 238.9,170.9 239.2,171.0 239.4,171.0 239.7,171.0 239.9,171.0 240.2,171.0 240.4,170.9 240.7,170.9 240.9,170.8 241.2,170.8 241.4,170.7 241.7,170.7 241.9,170.6 242.2,170.6 242.4,170.4 242.7,170.3 242.9,170.1 243.2,169.9 243.4,169.7 243.7,169.5 243.9,169.2 244.2,168.9 244.4,168.6 244.7,168.3 244.8,168.1 244.9,213.0 285.4,213.0 285.4,89.9 285.6,92.1 285.9,94.3 286.1,96.4 286.4,98.4 286.6,100.4 286.9,102.3 287.1,104.1 287.4,105.8 287.6,107.5 287.9,109.2 288.1,110.8 288.4,112.4 288.6,113.9 288.9,115.4 289.1,116.9 289.4,118.4 289.6,119.8 289.9,121.2 290.1,122.6 290.4,124.0 290.6,125.3 290.9,126.5 291.1,127.7 291.4,128.9 291.6,130.1 291.9,131.2 292.1,132.4 292.4,133.5 292.6,134.5 292.9,135.5 293.1,136.4 293.4,137.3 293.6,138.1 293.9,138.8 294.1,139.4 294.4,140.0 294.6,140.6 294.9,141.2 295.1,141.8 295.4,142.3 295.6,142.8 295.9,143.3 296.1,143.8 296.4,144.2 296.6,144.7 296.9,145.1 297.1,145.6 297.4,146.0 297.6,146.4 297.9,146.8 298.1,147.3 298.4,147.7 298.6,148.1 298.9,148.6 299.1,149.0 299.4,149.3 299.6,149.7 299.9,149.9 300.1,150.1 300.4,150.3 300.6,150.5 300.9,150.7 301.1,150.8 301.4,150.9 301.6,151.0 301.9,151.0 302.1,150.8 302.4,150.5 302.6,150.1 302.9,149.7 303.1,149.1 303.4,148.4 303.6,147.4 303.9,146.2 304.1,144.7 304.4,143.0 304.6,141.2 304.7,140.8 304.8,213.0 325.4,213.0 325.4,112.5 325.6,115.8 325.9,119.0 326.1,122.1 326.4,125.0 326.6,127.8 326.9,130.6 327.1,133.3 327.4,135.7 327.6,137.8 327.9,139.6 328.1,141.3 328.4,142.8 328.6,144.2 328.9,145.5 329.1,146.8 329.4,148.0 329.6,149.3 329.9,150.5 330.1,151.7 330.4,152.9 330.6,154.1 330.9,155.3 331.1,156.4 331.4,157.5 331.6,158.5 331.9,159.5 332.1,160.4 332.4,161.2 332.6,162.1 332.9,162.9 333.1,163.6 333.4,164.4 333.6,165.1 333.9,165.9 334.1,166.6 334.4,167.2 334.6,167.9 334.9,168.5 335.1,169.2 335.4,169.8 335.6,170.4 335.9,171.0 336.1,171.5 336.4,172.1 336.6,172.6 336.9,173.2 337.1,173.7 337.4,174.2 337.6,174.6 337.9,175.1 338.1,175.6 338.4,176.0 338.6,176.5 338.9,176.9 339.1,177.3 339.4,177.8 339.6,178.2 339.9,178.6 340.1,179.0 340.4,179.4 340.6,179.9 340.9,180.3 341.1,180.7 341.4,181.1 341.6,181.5 341.9,181.9 342.1,182.3 342.4,182.7 342.6,183.1 342.9,183.5 343.1,183.9 343.4,184.3 343.6,184.7 343.9,185.1 344.1,185.5 344.4,185.9 344.6,186.2 344.9,186.6 345.1,187.0 345.4,187.4 345.6,187.7 345.9,188.1 346.1,188.5 346.4,188.8 346.6,189.2 346.9,189.6 347.1,189.9 347.4,190.3 347.6,190.6 347.9,191.0 348.1,191.3 348.4,191.7 348.6,192.0 348.9,192.4 349.1,192.7 349.4,193.0 349.6,193.4 349.9,193.7 350.1,194.1 350.4,194.4 350.6,194.7 350.9,195.1 351.1,195.4 351.4,195.7 351.6,196.0 351.9,196.4 352.1,196.7 352.4,197.0 352.6,197.3 352.9,197.6 353.1,197.9 353.4,198.2 353.6,198.5 353.9,198.8 354.1,199.1 354.4,199.4 354.6,199.7 354.9,200.0 355.1,200.3 355.4,200.6 355.6,200.9 355.9,201.2 356.1,201.5 356.4,201.7 356.6,202.0 356.9,202.3 357.1,202.6 357.4,202.8 357.6,203.1 357.9,203.4 358.1,203.6 358.4,203.9 358.6,204.1 358.9,204.4 359.1,204.7 359.4,204.9 359.6,205.2 359.9,205.4 360.1,205.7 360.4,205.9 360.6,206.1 360.9,206.4 361.1,206.6 361.4,206.9 361.6,207.1 361.9,207.4 362.1,207.6 362.4,207.8 362.6,208.1 362.9,208.3 363.1,208.6 363.4,208.8 363.6,209.0 363.9,209.3 364.1,209.5 364.4,209.8 364.6,210.0 364.9,210.2 365.1,210.5 365.4,210.7 365.6,211.0 365.9,211.2 366.1,211.5 366.4,211.7 366.6,212.0 366.9,212.2 367.1,212.4 367.4,212.7 367.6,212.9 367.7,213.0" fill="none" stroke="#318a2e" stroke-width="1.75" stroke-linejoin="miter"/>
</g>
<path d="M81.80,213.0v-3.4M81.80,23.5v3.4M48.5,194.05h3.4M381.5,194.05h-3.4M115.10,213.0v-3.4M115.10,23.5v3.4M48.5,175.10h3.4M381.5,175.10h-3.4M148.40,213.0v-3.4M148.40,23.5v3.4M48.5,156.15h3.4M381.5,156.15h-3.4M181.70,213.0v-3.4M181.70,23.5v3.4M48.5,137.20h3.4M381.5,137.20h-3.4M215.00,213.0v-3.4M215.00,23.5v3.4M48.5,118.25h3.4M381.5,118.25h-3.4M248.30,213.0v-3.4M248.30,23.5v3.4M48.5,99.30h3.4M381.5,99.30h-3.4M281.60,213.0v-3.4M281.60,23.5v3.4M48.5,80.35h3.4M381.5,80.35h-3.4M314.90,213.0v-3.4M314.90,23.5v3.4M48.5,61.40h3.4M381.5,61.40h-3.4M348.20,213.0v-3.4M348.20,23.5v3.4M48.5,42.45h3.4M381.5,42.45h-3.4" stroke="#3e3e3e" stroke-width="1.1" fill="none"/>
<path d="M48.5,23.5H381.5V213.0" stroke="#3e3e3e" stroke-width="1.4" fill="none" stroke-linecap="square"/>
<path d="M48.5,213.0V23.5" stroke="#686868" stroke-width="1.4" fill="none"/>
<path d="M381.5,213.0H149.5" stroke="#3e3e3e" stroke-width="1.4" fill="none"/>
<path d="M47.8,213.35H149.5" stroke="#5a6a58" stroke-width="0.8" fill="none"/>
<path d="M48.5,212.55H148.8" stroke="#318a2e" stroke-width="1.1" fill="none"/>
<text transform="translate(48.4 229.2) scale(1.0 1)" font-size="13.5" text-anchor="middle" fill="#111" stroke="#111" stroke-width="0.16" opacity="0.999">0</text>
<text transform="translate(80.1 229.2) scale(1.0 1)" font-size="13.5" text-anchor="middle" fill="#111" stroke="#111" stroke-width="0.16" opacity="0.999">0.01</text>
<text transform="translate(113.1 229.2) scale(1.0 1)" font-size="13.5" text-anchor="middle" fill="#111" stroke="#111" stroke-width="0.16" opacity="0.999">0.02</text>
<text transform="translate(147.8 229.2) scale(1.0 1)" font-size="13.5" text-anchor="middle" fill="#111" stroke="#111" stroke-width="0.16" opacity="0.999">0.03</text>
<text transform="translate(180.7 229.2) scale(1.0 1)" font-size="13.5" text-anchor="middle" fill="#111" stroke="#111" stroke-width="0.16" opacity="0.999">0.04</text>
<text transform="translate(213.8 229.2) scale(1.0 1)" font-size="13.5" text-anchor="middle" fill="#111" stroke="#111" stroke-width="0.16" opacity="0.999">0.05</text>
<text transform="translate(246.7 229.2) scale(1.0 1)" font-size="13.5" text-anchor="middle" fill="#111" stroke="#111" stroke-width="0.16" opacity="0.999">0.06</text>
<text transform="translate(282.2 229.2) scale(1.0 1)" font-size="13.5" text-anchor="middle" fill="#111" stroke="#111" stroke-width="0.16" opacity="0.999">0.07</text>
<text transform="translate(314.6 229.2) scale(1.0 1)" font-size="13.5" text-anchor="middle" fill="#111" stroke="#111" stroke-width="0.16" opacity="0.999">0.08</text>
<text transform="translate(349.0 229.2) scale(1.0 1)" font-size="13.5" text-anchor="middle" fill="#111" stroke="#111" stroke-width="0.16" opacity="0.999">0.09</text>
<text transform="translate(379.0 229.2) scale(1.0 1)" font-size="13.5" text-anchor="middle" fill="#111" stroke="#111" stroke-width="0.16" opacity="0.999">1</text>
<text transform="translate(42.9 217.7) scale(1.06 1)" font-size="13.5" text-anchor="end" fill="#111" stroke="#111" stroke-width="0.16" opacity="0.999">0</text>
<text transform="translate(42.9 198.7) scale(1.06 1)" font-size="13.5" text-anchor="end" fill="#111" stroke="#111" stroke-width="0.16" opacity="0.999">0.1</text>
<text transform="translate(42.9 179.5) scale(1.06 1)" font-size="13.5" text-anchor="end" fill="#111" stroke="#111" stroke-width="0.16" opacity="0.999">0.2</text>
<text transform="translate(42.9 159.9) scale(1.06 1)" font-size="13.5" text-anchor="end" fill="#111" stroke="#111" stroke-width="0.16" opacity="0.999">0.3</text>
<text transform="translate(42.9 140.9) scale(1.06 1)" font-size="13.5" text-anchor="end" fill="#111" stroke="#111" stroke-width="0.16" opacity="0.999">0.4</text>
<text transform="translate(42.9 121.4) scale(1.06 1)" font-size="13.5" text-anchor="end" fill="#111" stroke="#111" stroke-width="0.16" opacity="0.999">0.5</text>
<text transform="translate(42.9 102.2) scale(1.06 1)" font-size="13.5" text-anchor="end" fill="#111" stroke="#111" stroke-width="0.16" opacity="0.999">0.6</text>
<text transform="translate(42.9 82.9) scale(1.06 1)" font-size="13.5" text-anchor="end" fill="#111" stroke="#111" stroke-width="0.16" opacity="0.999">0.7</text>
<text transform="translate(42.9 63.7) scale(1.06 1)" font-size="13.5" text-anchor="end" fill="#111" stroke="#111" stroke-width="0.16" opacity="0.999">0.8</text>
<text transform="translate(42.9 44.1) scale(1.06 1)" font-size="13.5" text-anchor="end" fill="#111" stroke="#111" stroke-width="0.16" opacity="0.999">0.9</text>
<text transform="translate(43.7 26.1) scale(1.06 1)" font-size="13.5" text-anchor="end" fill="#111" stroke="#111" stroke-width="0.16" opacity="0.999">1</text>
<text transform="translate(216.4 248.8) scale(1.09 1)" font-size="14.6" text-anchor="middle" fill="#111" stroke="#111" stroke-width="0.16" opacity="0.999">x/R</text>
<text transform="translate(13.1 118) rotate(-90) scale(1.16 1)" font-size="14.2" text-anchor="middle" fill="#111" stroke="#111" stroke-width="0.16" opacity="0.999">I'<tspan font-size="10" dy="3.2">z</tspan><tspan dy="-3.2">/max(I'</tspan><tspan font-size="10" dy="3.2">z</tspan><tspan dy="-3.2">)</tspan></text>
<text transform="translate(2.9 25.6) scale(0.98 1)" font-size="14" text-anchor="start" fill="#111" stroke="#111" stroke-width="0.16" opacity="0.999">(a)</text>
<text transform="translate(416.4 25.6) scale(1.0 1)" font-size="14" text-anchor="start" fill="#111" stroke="#111" stroke-width="0.16" opacity="0.999">(b)</text>
<text transform="translate(93.1 11.3) scale(1.05 1)" font-size="13.5" text-anchor="start" fill="#ff1a1a" stroke="#ff1a1a" stroke-width="0.16" opacity="0.999">a<tspan font-size="9" dy="2.4">1</tspan><tspan dy="-2.4">/R</tspan></text>
<text transform="translate(196.4 11.3) scale(1.05 1)" font-size="13.5" text-anchor="start" fill="#318a2e" stroke="#318a2e" stroke-width="0.16" opacity="0.999">2a<tspan font-size="9" dy="2.4">3</tspan><tspan dy="-2.4">/R</tspan></text>
<text transform="translate(246.9 11.3) scale(1.05 1)" font-size="13.5" text-anchor="start" fill="#318a2e" stroke="#318a2e" stroke-width="0.16" opacity="0.999">2a<tspan font-size="9" dy="2.4">2</tspan><tspan dy="-2.4">/R</tspan></text>
<text transform="translate(297.5 11.3) scale(1.05 1)" font-size="13.5" text-anchor="start" fill="#318a2e" stroke="#318a2e" stroke-width="0.16" opacity="0.999">2a<tspan font-size="9" dy="2.4">3</tspan><tspan dy="-2.4">/R</tspan></text>
<path d="M52.3,17.5H145.8" stroke="#ff1a1a" stroke-width="1.05" fill="none"/>
<path d="M47.8,17.5L54.4,15.5L52.8,17.5L54.4,19.5ZM150.3,17.5L143.70000000000002,15.5L145.3,17.5L143.70000000000002,19.5Z" fill="#ff1a1a"/>
<path d="M204.6,17.4H226.2M209.4,15.099999999999998L204.9,17.4L209.4,19.7M221.39999999999998,15.099999999999998L225.89999999999998,17.4L221.39999999999998,19.7" stroke="#318a2e" stroke-width="1" fill="none" stroke-linejoin="miter"/>
<path d="M247.7,17.4H280.9" stroke="#1a1aff" stroke-width="1.05" fill="none"/>
<path d="M243.2,17.4L249.79999999999998,15.399999999999999L248.2,17.4L249.79999999999998,19.4ZM285.4,17.4L278.79999999999995,15.399999999999999L280.4,17.4L278.79999999999995,19.4Z" fill="#1a1aff"/>
<path d="M304.1,17.4H326.3M308.90000000000003,15.099999999999998L304.40000000000003,17.4L308.90000000000003,19.7M321.5,15.099999999999998L326.0,17.4L321.5,19.7" stroke="#318a2e" stroke-width="1" fill="none" stroke-linejoin="miter"/>
<g transform="translate(0,0)">
<g filter="url(#jet)">
<path d="M464.1,32.4 Q464.90000000000003,30.8 470,29.8 Q474,29.1 477.5,29.7 L527.2,41.7 Q541,44.5 551.6,54.1 L516.0,121.2 L515.4,120.8 L464.1,108.0 Z" fill="url(#g0)"/>
<path d="M464.1,32.4 Q464.90000000000003,30.8 470,29.8 Q474,29.1 477.5,29.7 L527.2,41.7 L515.4,44.5 L464.1,31.6 Z" fill="url(#g0t)"/>
</g>
<path d="M465.3,31.900000000000002 L515.4,44.5 L515.4,120.8 M515.4,44.5 L527.2,41.8" stroke="#b4b4cc" stroke-width="0.75" fill="none"/>
</g>
<g transform="translate(131.3,3.7)">
<g filter="url(#jet)">
<path d="M464.1,32.4 Q464.90000000000003,30.8 470,29.8 Q474,29.1 477.5,29.7 L527.2,41.7 Q541,44.5 551.6,54.1 L516.0,121.2 L515.4,120.8 L464.1,108.0 Z" fill="#1f1f1f"/>
<g clip-path="url(#cshape)">
<ellipse cx="500" cy="66" rx="10" ry="15" fill="#000" opacity="0.5" filter="url(#b3)"/>
<ellipse cx="532" cy="72" rx="9" ry="9" fill="#000" opacity="0.4" filter="url(#b3)"/>
<g filter="url(#b07)">
<path d="M448.1,79.9 C448.1,68.3 481.9,67.2 515.4,75.4 L520.9,74.4 Q524.9,74.9 528.4,78.7 L547.4,88.4 L547.4,126.4 L448.1,126.4 Z" fill="#242424" opacity="0.12"/>
<path d="M459.2,82.6 C459.2,73.5 487.5,73.0 515.4,79.8 L520.9,78.9 Q524.9,79.4 528.4,83.2 L547.4,92.8 L547.4,126.4 L459.2,126.4 Z" fill="#2b2b2b" opacity="0.27"/>
<path d="M462.5,83.4 C462.5,75.0 489.1,74.7 515.4,81.2 L520.9,80.3 Q524.9,80.8 528.4,84.6 L547.4,94.2 L547.4,126.4 L462.5,126.4 Z" fill="#333333" opacity="0.41"/>
<path d="M465.9,84.2 C465.9,76.6 490.8,76.5 515.4,82.5 L520.9,81.6 Q524.9,82.2 528.4,86.0 L547.4,95.5 L547.4,126.4 L465.9,126.4 Z" fill="#3b3b3b" opacity="0.56"/>
<path d="M468.6,84.9 C468.6,77.8 492.1,77.9 515.4,83.6 L520.9,82.7 Q524.9,83.3 528.4,87.1 L547.4,96.6 L547.4,126.4 L468.6,126.4 Z" fill="#424242" opacity="0.71"/>
<path d="M470.0,85.3 C470.0,78.5 492.8,78.7 515.4,84.2 L520.9,83.4 Q524.9,83.9 528.4,87.7 L547.4,97.2 L547.4,126.4 L470.0,126.4 Z" fill="#4a4a4a" opacity="0.85"/>
<path d="M471.5,85.6 C471.5,79.2 493.6,79.4 515.4,84.8 L520.9,84.0 Q524.9,84.6 528.4,88.4 L547.4,97.8 L547.4,126.4 L471.5,126.4 Z" fill="#525252" opacity="1.00"/>
<path d="M472.9,86.0 C472.9,79.9 494.3,80.2 515.4,85.4 L520.9,84.6 Q524.9,85.2 528.4,89.0 L547.4,98.4 L547.4,126.4 L472.9,126.4 Z" fill="#595959" opacity="1.00"/>
<path d="M474.5,86.4 C474.5,80.6 495.1,81.0 515.4,86.0 L520.9,85.2 Q524.9,85.8 528.4,89.6 L547.4,99.0 L547.4,126.4 L474.5,126.4 Z" fill="#616161" opacity="1.00"/>
<path d="M476.9,86.9 C476.9,81.7 496.3,82.2 515.4,86.9 L520.9,86.1 Q524.9,86.7 528.4,90.5 L547.4,99.9 L547.4,126.4 L476.9,126.4 Z" fill="#696969" opacity="1.00"/>
<path d="M479.3,87.5 C479.3,82.7 497.5,83.3 515.4,87.7 L520.9,86.9 Q524.9,87.6 528.4,91.4 L547.4,100.7 L547.4,126.4 L479.3,126.4 Z" fill="#707070" opacity="1.00"/>
<path d="M481.7,88.1 C481.7,83.8 498.6,84.4 515.4,88.6 L520.9,87.8 Q524.9,88.4 528.4,92.2 L547.4,101.6 L547.4,126.4 L481.7,126.4 Z" fill="#787878" opacity="1.00"/>
<path d="M484.1,88.7 C484.1,84.8 499.8,85.6 515.4,89.4 L520.9,88.7 Q524.9,89.3 528.4,93.1 L547.4,102.4 L547.4,126.4 L484.1,126.4 Z" fill="#808080" opacity="1.00"/>
<path d="M485.7,89.1 C485.7,85.5 500.7,86.3 515.4,89.9 L520.9,89.1 Q524.9,89.8 528.4,93.6 L547.4,102.9 L547.4,126.4 L485.7,126.4 Z" fill="#878787" opacity="1.00"/>
<path d="M487.4,89.5 C487.4,86.2 501.5,86.9 515.4,90.4 L520.9,89.6 Q524.9,90.3 528.4,94.1 L547.4,103.4 L547.4,126.4 L487.4,126.4 Z" fill="#8f8f8f" opacity="1.00"/>
<path d="M489.0,89.9 C489.0,86.8 502.3,87.6 515.4,90.8 L520.9,90.1 Q524.9,90.8 528.4,94.6 L547.4,103.8 L547.4,126.4 L489.0,126.4 Z" fill="#969696" opacity="1.00"/>
<path d="M490.6,90.3 C490.6,87.5 503.1,88.3 515.4,91.3 L520.9,90.6 Q524.9,91.3 528.4,95.1 L547.4,104.3 L547.4,126.4 L490.6,126.4 Z" fill="#9e9e9e" opacity="1.00"/>
<path d="M492.2,90.7 C492.2,88.1 503.9,88.9 515.4,91.7 L520.9,91.0 Q524.9,91.7 528.4,95.5 L547.4,104.7 L547.4,126.4 L492.2,126.4 Z" fill="#a6a6a6" opacity="1.00"/>
<path d="M493.8,91.1 C493.8,88.7 504.7,89.4 515.4,92.1 L520.9,91.4 Q524.9,92.0 528.4,95.8 L547.4,105.1 L547.4,126.4 L493.8,126.4 Z" fill="#adadad" opacity="1.00"/>
<path d="M495.5,91.5 C495.5,89.3 505.5,90.0 515.4,92.4 L520.9,91.7 Q524.9,92.4 528.4,96.2 L547.4,105.4 L547.4,126.4 L495.5,126.4 Z" fill="#b5b5b5" opacity="1.00"/>
<path d="M497.1,91.9 C497.1,89.9 506.3,90.5 515.4,92.8 L520.9,92.1 Q524.9,92.8 528.4,96.6 L547.4,105.8 L547.4,126.4 L497.1,126.4 Z" fill="#bdbdbd" opacity="1.00"/>
<path d="M498.7,92.3 C498.7,90.5 507.1,91.1 515.4,93.2 L520.9,92.5 Q524.9,93.2 528.4,97.0 L547.4,106.2 L547.4,126.4 L498.7,126.4 Z" fill="#c4c4c4" opacity="1.00"/>
<path d="M500.4,92.7 C500.4,91.1 507.9,91.7 515.4,93.5 L520.9,92.9 Q524.9,93.6 528.4,97.4 L547.4,106.5 L547.4,126.4 L500.4,126.4 Z" fill="#cccccc" opacity="1.00"/>
<path d="M502.1,93.1 C502.1,91.8 508.8,92.3 515.4,93.9 L520.9,93.3 Q524.9,93.9 528.4,97.7 L547.4,106.9 L547.4,126.4 L502.1,126.4 Z" fill="#d4d4d4" opacity="1.00"/>
<path d="M503.8,93.5 C503.8,92.4 509.6,92.9 515.4,94.3 L520.9,93.7 Q524.9,94.3 528.4,98.1 L547.4,107.3 L547.4,126.4 L503.8,126.4 Z" fill="#dbdbdb" opacity="1.00"/>
<path d="M505.5,94.0 C505.5,93.0 510.5,93.5 515.4,94.7 L520.9,94.1 Q524.9,94.8 528.4,98.6 L547.4,107.7 L547.4,126.4 L505.5,126.4 Z" fill="#e3e3e3" opacity="1.00"/>
<path d="M507.3,94.4 C507.3,93.7 511.4,94.2 515.4,95.2 L520.9,94.5 Q524.9,95.2 528.4,99.0 L547.4,108.2 L547.4,126.4 L507.3,126.4 Z" fill="#ebebeb" opacity="1.00"/>
<path d="M509.1,94.9 C509.1,94.4 512.3,94.8 515.4,95.6 L520.9,95.0 Q524.9,95.7 528.4,99.5 L547.4,108.6 L547.4,126.4 L509.1,126.4 Z" fill="#f2f2f2" opacity="1.00"/>
<path d="M511.5,95.4 C511.5,95.2 513.5,95.5 515.4,96.0 L520.9,95.4 Q524.9,96.0 528.4,99.8 L547.4,109.0 L547.4,126.4 L511.5,126.4 Z" fill="#fafafa" opacity="1.00"/>
</g>
<g clip-path="url(#ctop)"><rect x="460" y="25" width="50" height="25" fill="url(#gleftt1)"/><ellipse cx="520" cy="41" rx="9" ry="5" fill="#000" opacity="0.35" filter="url(#b2)"/></g>
<g mask="url(#mleft1)"><rect x="460" y="25" width="24" height="80" fill="url(#gleft1)"/></g>
</g>
</g>
<g clip-path="url(#cshape)"><path d="M463.1,83.8 L515.4,96.4 L521,95.9 Q524.5,96.60000000000001 527.8,100.2 L560,100.2 L560,125 L463.1,125 Z" fill="#140090"/></g>
<path d="M465.3,31.900000000000002 L515.4,44.5 L515.4,120.8 M515.4,44.5 L527.2,41.8" stroke="#b4b4cc" stroke-width="0.75" fill="none"/>
</g>
<g transform="translate(0.2,95.0)">
<g filter="url(#jet)">
<path d="M464.1,32.4 Q464.90000000000003,30.8 470,29.8 Q474,29.1 477.5,29.7 L527.2,41.7 Q541,44.5 551.6,54.1 L516.0,121.2 L515.4,120.8 L464.1,108.0 Z" fill="#1c1c1c"/>
<g clip-path="url(#cshape)">
<ellipse cx="503" cy="66" rx="8" ry="16" fill="#000" opacity="0.45" filter="url(#b3)"/>
<g clip-path="url(#cright)"><rect x="510" y="35" width="50" height="70" fill="#000" opacity="0.5"/></g>
<ellipse cx="521" cy="54" rx="5" ry="8" fill="#000" opacity="0.4" filter="url(#b3)"/>
<ellipse cx="529" cy="69" rx="11" ry="13" fill="#fff" opacity="0.13" filter="url(#b3)"/>
<g filter="url(#b07)">
<path d="M444.1,78.9 C444.1,67.8 480.0,67.7 515.4,76.4 L520.9,75.4 Q524.9,75.9 528.4,79.7 L547.4,89.4 L547.4,126.4 L444.1,126.4 Z" fill="#242424" opacity="0.12"/>
<path d="M456.4,81.9 C456.4,73.1 486.1,73.2 515.4,80.4 L520.9,79.5 Q524.9,80.0 528.4,83.8 L547.4,93.4 L547.4,126.4 L456.4,126.4 Z" fill="#2b2b2b" opacity="0.27"/>
<path d="M460.4,82.9 C460.4,74.8 488.1,75.1 515.4,81.8 L520.9,80.9 Q524.9,81.5 528.4,85.3 L547.4,94.8 L547.4,126.4 L460.4,126.4 Z" fill="#333333" opacity="0.41"/>
<path d="M464.4,83.9 C464.4,76.6 490.1,77.0 515.4,83.2 L520.9,82.4 Q524.9,82.9 528.4,86.7 L547.4,96.2 L547.4,126.4 L464.4,126.4 Z" fill="#3b3b3b" opacity="0.56"/>
<path d="M467.9,84.7 C467.9,78.2 491.8,78.7 515.4,84.5 L520.9,83.6 Q524.9,84.2 528.4,88.0 L547.4,97.5 L547.4,126.4 L467.9,126.4 Z" fill="#424242" opacity="0.71"/>
<path d="M470.5,85.4 C470.5,79.2 493.1,79.8 515.4,85.3 L520.9,84.5 Q524.9,85.1 528.4,88.9 L547.4,98.3 L547.4,126.4 L470.5,126.4 Z" fill="#4a4a4a" opacity="0.85"/>
<path d="M473.0,86.0 C473.0,80.3 494.3,80.9 515.4,86.1 L520.9,85.3 Q524.9,85.9 528.4,89.7 L547.4,99.1 L547.4,126.4 L473.0,126.4 Z" fill="#525252" opacity="1.00"/>
<path d="M475.5,86.6 C475.5,81.4 495.6,82.0 515.4,86.9 L520.9,86.1 Q524.9,86.7 528.4,90.5 L547.4,99.9 L547.4,126.4 L475.5,126.4 Z" fill="#595959" opacity="1.00"/>
<path d="M477.9,87.2 C477.9,82.4 496.8,83.1 515.4,87.7 L520.9,86.9 Q524.9,87.5 528.4,91.3 L547.4,100.7 L547.4,126.4 L477.9,126.4 Z" fill="#616161" opacity="1.00"/>
<path d="M479.9,87.7 C479.9,83.2 497.8,84.0 515.4,88.3 L520.9,87.6 Q524.9,88.2 528.4,92.0 L547.4,101.3 L547.4,126.4 L479.9,126.4 Z" fill="#696969" opacity="1.00"/>
<path d="M481.9,88.2 C481.9,84.0 498.7,84.9 515.4,89.0 L520.9,88.2 Q524.9,88.8 528.4,92.6 L547.4,102.0 L547.4,126.4 L481.9,126.4 Z" fill="#707070" opacity="1.00"/>
<path d="M483.8,88.6 C483.8,84.9 499.7,85.7 515.4,89.6 L520.9,88.8 Q524.9,89.5 528.4,93.3 L547.4,102.6 L547.4,126.4 L483.8,126.4 Z" fill="#787878" opacity="1.00"/>
<path d="M485.8,89.1 C485.8,85.7 500.7,86.6 515.4,90.2 L520.9,89.5 Q524.9,90.1 528.4,93.9 L547.4,103.2 L547.4,126.4 L485.8,126.4 Z" fill="#808080" opacity="1.00"/>
<path d="M486.7,89.4 C486.7,86.2 501.1,87.1 515.4,90.6 L520.9,89.9 Q524.9,90.5 528.4,94.3 L547.4,103.6 L547.4,126.4 L486.7,126.4 Z" fill="#878787" opacity="1.00"/>
<path d="M487.6,89.6 C487.6,86.6 501.6,87.6 515.4,91.0 L520.9,90.3 Q524.9,91.0 528.4,94.8 L547.4,104.0 L547.4,126.4 L487.6,126.4 Z" fill="#8f8f8f" opacity="1.00"/>
<path d="M488.5,89.8 C488.5,87.1 502.0,88.1 515.4,91.4 L520.9,90.7 Q524.9,91.4 528.4,95.2 L547.4,104.4 L547.4,126.4 L488.5,126.4 Z" fill="#969696" opacity="1.00"/>
<path d="M489.4,90.0 C489.4,87.5 502.5,88.7 515.4,91.8 L520.9,91.1 Q524.9,91.8 528.4,95.6 L547.4,104.8 L547.4,126.4 L489.4,126.4 Z" fill="#9e9e9e" opacity="1.00"/>
<path d="M490.7,90.3 C490.7,88.0 503.1,89.1 515.4,92.2 L520.9,91.5 Q524.9,92.1 528.4,95.9 L547.4,105.2 L547.4,126.4 L490.7,126.4 Z" fill="#a6a6a6" opacity="1.00"/>
<path d="M492.0,90.7 C492.0,88.5 503.8,89.6 515.4,92.5 L520.9,91.8 Q524.9,92.5 528.4,96.3 L547.4,105.5 L547.4,126.4 L492.0,126.4 Z" fill="#adadad" opacity="1.00"/>
<path d="M493.3,91.0 C493.3,89.0 504.4,90.1 515.4,92.8 L520.9,92.1 Q524.9,92.8 528.4,96.6 L547.4,105.8 L547.4,126.4 L493.3,126.4 Z" fill="#b5b5b5" opacity="1.00"/>
<path d="M494.7,91.3 C494.7,89.5 505.1,90.6 515.4,93.1 L520.9,92.4 Q524.9,93.1 528.4,96.9 L547.4,106.1 L547.4,126.4 L494.7,126.4 Z" fill="#bdbdbd" opacity="1.00"/>
<path d="M495.7,91.6 C495.7,89.9 505.6,91.0 515.4,93.4 L520.9,92.7 Q524.9,93.4 528.4,97.2 L547.4,106.4 L547.4,126.4 L495.7,126.4 Z" fill="#c4c4c4" opacity="1.00"/>
<path d="M496.7,91.8 C496.7,90.3 506.1,91.4 515.4,93.7 L520.9,93.0 Q524.9,93.7 528.4,97.5 L547.4,106.7 L547.4,126.4 L496.7,126.4 Z" fill="#cccccc" opacity="1.00"/>
<path d="M497.7,92.0 C497.7,90.7 506.6,91.8 515.4,94.0 L520.9,93.3 Q524.9,94.0 528.4,97.8 L547.4,107.0 L547.4,126.4 L497.7,126.4 Z" fill="#d4d4d4" opacity="1.00"/>
<path d="M498.6,92.3 C498.6,91.1 507.1,92.2 515.4,94.3 L520.9,93.6 Q524.9,94.3 528.4,98.1 L547.4,107.3 L547.4,126.4 L498.6,126.4 Z" fill="#dbdbdb" opacity="1.00"/>
<path d="M500.5,92.7 C500.5,91.8 508.0,92.8 515.4,94.6 L520.9,94.0 Q524.9,94.7 528.4,98.5 L547.4,107.6 L547.4,126.4 L500.5,126.4 Z" fill="#e3e3e3" opacity="1.00"/>
<path d="M503.3,93.4 C503.3,92.7 509.4,93.6 515.4,95.1 L520.9,94.4 Q524.9,95.1 528.4,98.9 L547.4,108.1 L547.4,126.4 L503.3,126.4 Z" fill="#ebebeb" opacity="1.00"/>
<path d="M506.1,94.1 C506.1,93.6 510.8,94.4 515.4,95.5 L520.9,94.9 Q524.9,95.6 528.4,99.4 L547.4,108.5 L547.4,126.4 L506.1,126.4 Z" fill="#f2f2f2" opacity="1.00"/>
<path d="M509.1,94.9 C509.1,94.6 512.3,95.1 515.4,95.9 L520.9,95.2 Q524.9,95.9 528.4,99.7 L547.4,108.9 L547.4,126.4 L509.1,126.4 Z" fill="#fafafa" opacity="1.00"/>
</g>
<g clip-path="url(#ctop)"><rect x="460" y="25" width="50" height="25" fill="url(#gleftt2)"/><ellipse cx="520" cy="41" rx="9" ry="5" fill="#000" opacity="0.35" filter="url(#b2)"/></g>
<g mask="url(#mleft2)"><rect x="460" y="25" width="24" height="80" fill="url(#gleft2)"/></g>
<ellipse cx="529.2" cy="68.5" rx="6" ry="8" fill="#fff" opacity="0.12" filter="url(#b2)"/>
<ellipse cx="530.0" cy="66.6" rx="3.3" ry="4.8" fill="#fff" opacity="0.30" filter="url(#b1)"/>
<ellipse cx="528.8" cy="69" rx="2.7" ry="4.6" transform="rotate(12 528.8 69)" fill="#000"/>
</g>
</g>
<g clip-path="url(#cshape)"><path d="M463.1,83.8 L515.4,96.4 L521,95.9 Q524.5,96.60000000000001 527.8,100.2 L560,100.2 L560,125 L463.1,125 Z" fill="#140090"/></g>
<path d="M465.3,31.900000000000002 L515.4,44.5 L515.4,120.8 M515.4,44.5 L527.2,41.8" stroke="#b4b4cc" stroke-width="0.75" fill="none"/>
</g>
<g transform="translate(132,95.0)">
<g filter="url(#jet)">
<path d="M464.1,32.4 Q464.90000000000003,30.8 470,29.8 Q474,29.1 477.5,29.7 L527.2,41.7 Q541,44.5 551.6,54.1 L516.0,121.2 L515.4,120.8 L464.1,108.0 Z" fill="#1f1f1f"/>
<g clip-path="url(#cshape)">
<ellipse cx="505" cy="62" rx="6" ry="12" fill="#000" opacity="0.35" filter="url(#b3)"/>
<ellipse cx="520" cy="52" rx="4" ry="7" fill="#000" opacity="0.4" filter="url(#b3)"/>
<g filter="url(#b07)">
<path d="M444.1,78.9 C444.1,67.8 480.0,67.7 515.4,76.4 L520.9,75.4 Q524.9,75.9 528.4,79.7 L547.4,89.4 L547.4,126.4 L444.1,126.4 Z" fill="#242424" opacity="0.12"/>
<path d="M456.4,81.9 C456.4,73.1 486.1,73.2 515.4,80.4 L520.9,79.5 Q524.9,80.0 528.4,83.8 L547.4,93.4 L547.4,126.4 L456.4,126.4 Z" fill="#2b2b2b" opacity="0.27"/>
<path d="M460.4,82.9 C460.4,74.8 488.1,75.1 515.4,81.8 L520.9,80.9 Q524.9,81.5 528.4,85.3 L547.4,94.8 L547.4,126.4 L460.4,126.4 Z" fill="#333333" opacity="0.41"/>
<path d="M464.4,83.9 C464.4,76.6 490.1,77.0 515.4,83.2 L520.9,82.4 Q524.9,82.9 528.4,86.7 L547.4,96.2 L547.4,126.4 L464.4,126.4 Z" fill="#3b3b3b" opacity="0.56"/>
<path d="M467.9,84.7 C467.9,78.2 491.8,78.7 515.4,84.5 L520.9,83.6 Q524.9,84.2 528.4,88.0 L547.4,97.5 L547.4,126.4 L467.9,126.4 Z" fill="#424242" opacity="0.71"/>
<path d="M470.5,85.4 C470.5,79.2 493.1,79.8 515.4,85.3 L520.9,84.5 Q524.9,85.1 528.4,88.9 L547.4,98.3 L547.4,126.4 L470.5,126.4 Z" fill="#4a4a4a" opacity="0.85"/>
<path d="M473.0,86.0 C473.0,80.3 494.3,80.9 515.4,86.1 L520.9,85.3 Q524.9,85.9 528.4,89.7 L547.4,99.1 L547.4,126.4 L473.0,126.4 Z" fill="#525252" opacity="1.00"/>
<path d="M475.5,86.6 C475.5,81.4 495.6,82.0 515.4,86.9 L520.9,86.1 Q524.9,86.7 528.4,90.5 L547.4,99.9 L547.4,126.4 L475.5,126.4 Z" fill="#595959" opacity="1.00"/>
<path d="M477.9,87.2 C477.9,82.4 496.8,83.1 515.4,87.7 L520.9,86.9 Q524.9,87.5 528.4,91.3 L547.4,100.7 L547.4,126.4 L477.9,126.4 Z" fill="#616161" opacity="1.00"/>
<path d="M479.9,87.7 C479.9,83.2 497.8,84.0 515.4,88.3 L520.9,87.6 Q524.9,88.2 528.4,92.0 L547.4,101.3 L547.4,126.4 L479.9,126.4 Z" fill="#696969" opacity="1.00"/>
<path d="M481.9,88.2 C481.9,84.0 498.7,84.9 515.4,89.0 L520.9,88.2 Q524.9,88.8 528.4,92.6 L547.4,102.0 L547.4,126.4 L481.9,126.4 Z" fill="#707070" opacity="1.00"/>
<path d="M483.8,88.6 C483.8,84.9 499.7,85.7 515.4,89.6 L520.9,88.8 Q524.9,89.5 528.4,93.3 L547.4,102.6 L547.4,126.4 L483.8,126.4 Z" fill="#787878" opacity="1.00"/>
<path d="M485.8,89.1 C485.8,85.7 500.7,86.6 515.4,90.2 L520.9,89.5 Q524.9,90.1 528.4,93.9 L547.4,103.2 L547.4,126.4 L485.8,126.4 Z" fill="#808080" opacity="1.00"/>
<path d="M486.7,89.4 C486.7,86.2 501.1,87.1 515.4,90.6 L520.9,89.9 Q524.9,90.5 528.4,94.3 L547.4,103.6 L547.4,126.4 L486.7,126.4 Z" fill="#878787" opacity="1.00"/>
<path d="M487.6,89.6 C487.6,86.6 501.6,87.6 515.4,91.0 L520.9,90.3 Q524.9,91.0 528.4,94.8 L547.4,104.0 L547.4,126.4 L487.6,126.4 Z" fill="#8f8f8f" opacity="1.00"/>
<path d="M488.5,89.8 C488.5,87.1 502.0,88.1 515.4,91.4 L520.9,90.7 Q524.9,91.4 528.4,95.2 L547.4,104.4 L547.4,126.4 L488.5,126.4 Z" fill="#969696" opacity="1.00"/>
<path d="M489.4,90.0 C489.4,87.5 502.5,88.7 515.4,91.8 L520.9,91.1 Q524.9,91.8 528.4,95.6 L547.4,104.8 L547.4,126.4 L489.4,126.4 Z" fill="#9e9e9e" opacity="1.00"/>
<path d="M490.7,90.3 C490.7,88.0 503.1,89.1 515.4,92.2 L520.9,91.5 Q524.9,92.1 528.4,95.9 L547.4,105.2 L547.4,126.4 L490.7,126.4 Z" fill="#a6a6a6" opacity="1.00"/>
<path d="M492.0,90.7 C492.0,88.5 503.8,89.6 515.4,92.5 L520.9,91.8 Q524.9,92.5 528.4,96.3 L547.4,105.5 L547.4,126.4 L492.0,126.4 Z" fill="#adadad" opacity="1.00"/>
<path d="M493.3,91.0 C493.3,89.0 504.4,90.1 515.4,92.8 L520.9,92.1 Q524.9,92.8 528.4,96.6 L547.4,105.8 L547.4,126.4 L493.3,126.4 Z" fill="#b5b5b5" opacity="1.00"/>
<path d="M494.7,91.3 C494.7,89.5 505.1,90.6 515.4,93.1 L520.9,92.4 Q524.9,93.1 528.4,96.9 L547.4,106.1 L547.4,126.4 L494.7,126.4 Z" fill="#bdbdbd" opacity="1.00"/>
<path d="M495.7,91.6 C495.7,89.9 505.6,91.0 515.4,93.4 L520.9,92.7 Q524.9,93.4 528.4,97.2 L547.4,106.4 L547.4,126.4 L495.7,126.4 Z" fill="#c4c4c4" opacity="1.00"/>
<path d="M496.7,91.8 C496.7,90.3 506.1,91.4 515.4,93.7 L520.9,93.0 Q524.9,93.7 528.4,97.5 L547.4,106.7 L547.4,126.4 L496.7,126.4 Z" fill="#cccccc" opacity="1.00"/>
<path d="M497.7,92.0 C497.7,90.7 506.6,91.8 515.4,94.0 L520.9,93.3 Q524.9,94.0 528.4,97.8 L547.4,107.0 L547.4,126.4 L497.7,126.4 Z" fill="#d4d4d4" opacity="1.00"/>
<path d="M498.6,92.3 C498.6,91.1 507.1,92.2 515.4,94.3 L520.9,93.6 Q524.9,94.3 528.4,98.1 L547.4,107.3 L547.4,126.4 L498.6,126.4 Z" fill="#dbdbdb" opacity="1.00"/>
<path d="M500.5,92.7 C500.5,91.8 508.0,92.8 515.4,94.6 L520.9,94.0 Q524.9,94.7 528.4,98.5 L547.4,107.6 L547.4,126.4 L500.5,126.4 Z" fill="#e3e3e3" opacity="1.00"/>
<path d="M503.3,93.4 C503.3,92.7 509.4,93.6 515.4,95.1 L520.9,94.4 Q524.9,95.1 528.4,98.9 L547.4,108.1 L547.4,126.4 L503.3,126.4 Z" fill="#ebebeb" opacity="1.00"/>
<path d="M506.1,94.1 C506.1,93.6 510.8,94.4 515.4,95.5 L520.9,94.9 Q524.9,95.6 528.4,99.4 L547.4,108.5 L547.4,126.4 L506.1,126.4 Z" fill="#f2f2f2" opacity="1.00"/>
<path d="M509.1,94.9 C509.1,94.6 512.3,95.1 515.4,95.9 L520.9,95.2 Q524.9,95.9 528.4,99.7 L547.4,108.9 L547.4,126.4 L509.1,126.4 Z" fill="#fafafa" opacity="1.00"/>
</g>
<g clip-path="url(#ctop)"><rect x="460" y="25" width="50" height="25" fill="url(#gleftt3)"/><ellipse cx="520" cy="41" rx="9" ry="5" fill="#000" opacity="0.35" filter="url(#b2)"/></g>
<g mask="url(#mleft3)"><rect x="460" y="25" width="24" height="80" fill="url(#gleft3)"/></g>
<ellipse cx="528.8" cy="69" rx="11" ry="14" fill="#fff" opacity="0.10" filter="url(#b2)"/>
<ellipse cx="532.1" cy="55.0" rx="2.2" ry="2.4" fill="#fff" opacity="0.3" filter="url(#b1)"/>
<ellipse cx="525.7" cy="57.4" rx="2.2" ry="2.4" fill="#fff" opacity="0.3" filter="url(#b1)"/>
<ellipse cx="536.9" cy="59.8" rx="2.2" ry="2.4" fill="#fff" opacity="0.3" filter="url(#b1)"/>
<ellipse cx="521.4" cy="65.4" rx="2.2" ry="2.4" fill="#fff" opacity="0.3" filter="url(#b1)"/>
<ellipse cx="536.9" cy="69.1" rx="2.2" ry="2.4" fill="#fff" opacity="0.3" filter="url(#b1)"/>
<ellipse cx="521.7" cy="74.2" rx="2.2" ry="2.4" fill="#fff" opacity="0.3" filter="url(#b1)"/>
<ellipse cx="532.1" cy="77.4" rx="2.2" ry="2.4" fill="#fff" opacity="0.3" filter="url(#b1)"/>
<ellipse cx="526.2" cy="79.3" rx="2.2" ry="2.4" fill="#fff" opacity="0.3" filter="url(#b1)"/>
<ellipse cx="529.4" cy="66.2" rx="3.4" ry="4.6" fill="#fff" opacity="0.5" filter="url(#b1)"/>
<ellipse cx="531.8" cy="56.2" rx="1.7" ry="2.1" fill="#000"/>
<ellipse cx="525.4" cy="58.6" rx="1.7" ry="2.1" fill="#000"/>
<ellipse cx="536.6" cy="61.0" rx="1.7" ry="2.1" fill="#000"/>
<ellipse cx="521.1" cy="66.6" rx="1.7" ry="2.1" fill="#000"/>
<ellipse cx="536.6" cy="70.3" rx="1.7" ry="2.1" fill="#000"/>
<ellipse cx="521.4" cy="75.4" rx="1.7" ry="2.1" fill="#000"/>
<ellipse cx="531.8" cy="78.6" rx="1.7" ry="2.1" fill="#000"/>
<ellipse cx="525.9" cy="80.5" rx="1.7" ry="2.1" fill="#000"/>
<ellipse cx="528.8" cy="69" rx="3.2" ry="4.9" transform="rotate(12 528.8 69)" fill="#000"/>
</g>
</g>
<g clip-path="url(#cshape)"><path d="M463.1,83.8 L515.4,96.4 L521,95.9 Q524.5,96.60000000000001 527.8,100.2 L560,100.2 L560,125 L463.1,125 Z" fill="#140090"/></g>
<path d="M465.3,31.900000000000002 L515.4,44.5 L515.4,120.8 M515.4,44.5 L527.2,41.8" stroke="#b4b4cc" stroke-width="0.75" fill="none"/>
</g>
<text x="527.73" y="35.65" font-size="12.3" font-family="'DejaVu Sans',sans-serif" fill="#000" stroke="#000" stroke-width="0.7" stroke-linejoin="round" opacity="0.999">★</text>
<text x="540.6" y="36.2" font-size="14.3" fill="#000" stroke="#000" stroke-width="0.16" opacity="0.999">0</text>
<text x="655.63" y="36.85" font-size="12.3" font-family="'DejaVu Sans',sans-serif" fill="#ff1a1a" stroke="#ff1a1a" stroke-width="0.7" stroke-linejoin="round" opacity="0.999">★</text>
<text x="666.9" y="37.8" font-size="14.3" fill="#ff1a1a" stroke="#ff1a1a" stroke-width="0.16" opacity="0.999">1</text>
<text x="524.13" y="128.85" font-size="12.3" font-family="'DejaVu Sans',sans-serif" fill="#1a1aff" stroke="#1a1aff" stroke-width="0.7" stroke-linejoin="round" opacity="0.999">★</text>
<text x="536.0" y="129.4" font-size="14.3" fill="#1a1aff" stroke="#1a1aff" stroke-width="0.16" opacity="0.999">2</text>
<text x="655.03" y="129.05" font-size="12.3" font-family="'DejaVu Sans',sans-serif" fill="#2d8a24" stroke="#2d8a24" stroke-width="0.7" stroke-linejoin="round" opacity="0.999">★</text>
<text x="667.5" y="129.4" font-size="14.3" fill="#31a031" stroke="#31a031" stroke-width="0.16" opacity="0.999">3</text>
</svg>
</div>
</body></html>
